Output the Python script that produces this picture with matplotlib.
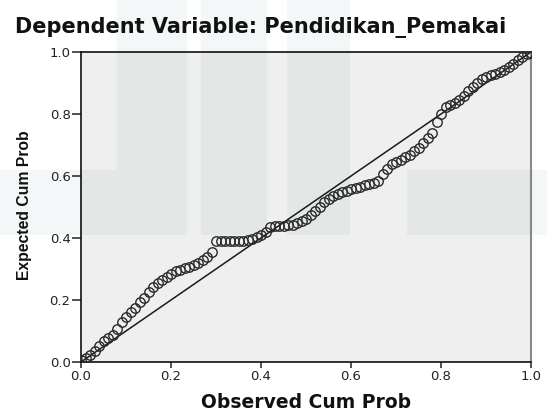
import matplotlib
matplotlib.use("Agg")
import matplotlib.pyplot as plt
from matplotlib.patches import Rectangle

plt.rcParams['font.family'] = ['DejaVu Sans']

title = "Dependent Variable: Pendidikan_Pemakai"
xlabel = "Observed Cum Prob"
ylabel = "Expected Cum Prob"
ticks = [0.0, 0.2, 0.4, 0.6, 0.8, 1.0]
tick_labels = ["0.0", "0.2", "0.4", "0.6", "0.8", "1.0"]

observed = [0.00, 0.01, 0.02, 0.03, 0.04, 0.05, 0.06, 0.07, 0.08, 0.09,
            0.10, 0.11, 0.12, 0.13, 0.14, 0.15, 0.16, 0.17, 0.18, 0.19,
            0.20, 0.21, 0.22, 0.23, 0.24, 0.25, 0.26, 0.27, 0.28, 0.29,
            0.30, 0.31, 0.32, 0.33, 0.34, 0.35, 0.36, 0.37, 0.38, 0.39,
            0.40, 0.41, 0.42, 0.43, 0.44, 0.45, 0.46, 0.47, 0.48, 0.49,
            0.50, 0.51, 0.52, 0.53, 0.54, 0.55, 0.56, 0.57, 0.58, 0.59,
            0.60, 0.61, 0.62, 0.63, 0.64, 0.65, 0.66, 0.67, 0.68, 0.69,
            0.70, 0.71, 0.72, 0.73, 0.74, 0.75, 0.76, 0.77, 0.78, 0.79,
            0.80, 0.81, 0.82, 0.83, 0.84, 0.85, 0.86, 0.87, 0.88, 0.89,
            0.90, 0.91, 0.92, 0.93, 0.94, 0.95, 0.96, 0.97, 0.98, 0.99,
            1.00]
expected = [0.005, 0.012, 0.022, 0.035, 0.052, 0.068, 0.078, 0.088, 0.108, 0.130,
            0.145, 0.160, 0.175, 0.192, 0.205, 0.225, 0.242, 0.255, 0.265, 0.275,
            0.285, 0.292, 0.298, 0.302, 0.307, 0.312, 0.318, 0.328, 0.340, 0.355,
            0.390, 0.390, 0.390, 0.390, 0.390, 0.390, 0.390, 0.392, 0.398, 0.404,
            0.410, 0.418, 0.436, 0.438, 0.439, 0.440, 0.441, 0.443, 0.448, 0.455,
            0.462, 0.475, 0.488, 0.500, 0.515, 0.525, 0.535, 0.542, 0.547, 0.553,
            0.558, 0.562, 0.566, 0.570, 0.574, 0.578, 0.585, 0.605, 0.622, 0.638,
            0.645, 0.652, 0.660, 0.668, 0.680, 0.690, 0.705, 0.722, 0.740, 0.775,
            0.800, 0.822, 0.830, 0.836, 0.845, 0.858, 0.875, 0.888, 0.900, 0.912,
            0.918, 0.925, 0.930, 0.935, 0.943, 0.952, 0.962, 0.975, 0.985, 0.993,
            0.998]

W, H = 547, 413
fig = plt.figure(figsize=(W / 100, H / 100), dpi=100)
fig.patch.set_facecolor('white')

def fr(x0, y0, x1, y1):
    # pixel box -> figure fraction (x, y, w, h)
    return (x0 / W, 1 - y1 / H, (x1 - x0) / W, (y1 - y0) / H)

# watermark boxes (pixel coords)
wm_boxes = [(117, 0, 187, 235), (201, 0, 267, 235), (287, 0, 350, 235),
            (0, 170, 117, 235), (407, 170, 547, 235)]
for b in wm_boxes:
    x, y, w, h = fr(*b)
    fig.add_artist(Rectangle((x, y), w, h, transform=fig.transFigure,
                             facecolor='#f4f7f7', edgecolor='none', zorder=-5))

ax = fig.add_axes([81 / W, 1 - 362 / H, 450 / W, 310 / H])
ax.set_facecolor('#efefef')
for b in wm_boxes:
    x, y, w, h = fr(*b)
    ax.add_patch(Rectangle((x, y), w, h, transform=fig.transFigure,
                           facecolor='#e3e7e6', edgecolor='none', zorder=0.5))

ax.plot([0, 1], [0, 1], color='#1a1a1a', lw=1.1, zorder=2)
ax.plot(observed, expected, linestyle='none', marker='o', markersize=6.8,
        markerfacecolor='none', markeredgecolor='#2a2a2a', markeredgewidth=1.0,
        zorder=3)

ax.set_xlim(0, 1)
ax.set_ylim(0, 1)
ax.set_xticks(ticks)
ax.set_xticklabels(tick_labels)
ax.set_yticks(ticks)
ax.set_yticklabels(tick_labels)
ax.tick_params(direction='out', width=1.1, colors='#222222',
               labelsize=9.5, pad=1.5)
ax.tick_params(axis='x', length=4.5)
ax.tick_params(axis='y', length=6.5, pad=1)
for s in ['left', 'bottom', 'top']:
    ax.spines[s].set_color('#111111')
    ax.spines[s].set_linewidth(1.2)
ax.spines['right'].set_color('#888888')
ax.spines['right'].set_linewidth(1.5)

fig.text(15 / W, 1 - 33 / H, title, fontsize=15, fontweight='bold',
         ha='left', va='baseline', color='#111111')
fig.text(306 / W, 1 - 402 / H, xlabel, fontsize=13.5, fontweight='bold',
         ha='center', va='center', color='#111111')
fig.text(25 / W, 1 - 205 / H, ylabel, fontsize=11.3, fontweight='bold',
         family='Liberation Sans',
         ha='center', va='center', rotation=90, color='#111111')

fig.savefig('out.png', dpi=100)
